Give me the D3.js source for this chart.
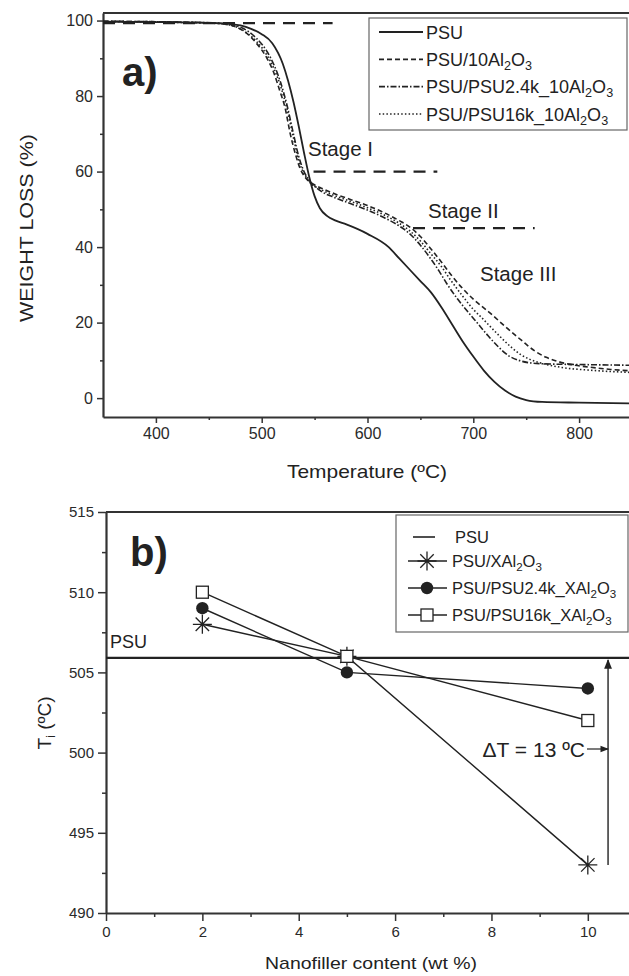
<!DOCTYPE html>
<html>
<head>
<meta charset="utf-8">
<script src="https://cdn.jsdelivr.net/npm/d3@7"></script>
<style>
  body { margin: 0; background: #fff; }
  svg { display: block; font-family: "Liberation Sans", Arial, sans-serif; }
  .tick text { fill: #2a2a2a; }
</style>
</head>
<body>
<svg id="fig" width="629" height="976"></svg>
<script>
// panel a: TGA curves, [temperature, weight %]
const psuTga = [[350,99.7],[400,99.6],[450,99.4],[470,99.1],[480,98.7],[490,97.8],[500,96.4],[510,94],[520,88.5],[525,84],[530,78.5],[535,72],[540,65],[545,58.5],[550,53.5],[555,50.3],[562,48.2],[570,47],[580,46],[600,43.5],[620,40],[630,37],[640,34],[650,31],[660,28],[670,24],[680,19.5],[690,15],[700,11],[710,7.3],[720,4.3],[730,2],[740,0.4],[750,-0.5],[765,-1],[800,-1.2],[850,-1.4]];
const al2o3Tga = [[350,99.8],[420,99.6],[460,99.2],[470,98.8],[478,98],[486,96.6],[495,94],[505,90],[511,86.5],[517,81.5],[522,77],[527,70],[532,64.5],[536,61],[541,58.5],[548,56.8],[555,55.8],[570,54],[585,52.5],[600,51],[615,49.2],[630,47],[640,45.3],[650,42.8],[660,39.5],[670,36],[680,32.3],[690,29],[700,26.2],[716,22.5],[730,19],[746,15.2],[758,12.5],[769,10.8],[780,9.7],[790,9],[810,8.2],[830,7.6],[850,7.2]];
const psu24kTga = [[350,99.8],[420,99.6],[460,99.3],[470,99],[480,98.2],[488,97],[495,95.3],[505,91.8],[512,88],[518,83.5],[524,77.5],[530,70],[535,64],[540,60],[546,57.3],[555,55],[570,53],[585,51.4],[600,49.8],[615,47.9],[630,45.6],[640,43.5],[650,40.5],[660,36.8],[668,33.5],[675,30.3],[685,26.3],[695,22.8],[705,19.5],[714,16.5],[724,13.5],[733,11.3],[743,10],[752,9.4],[765,9.1],[800,8.9],[850,8.7]];
const psu16kTga = [[350,99.7],[420,99.5],[460,99.2],[470,98.8],[480,97.8],[488,96.3],[495,94.5],[505,90.8],[512,87],[518,82.5],[524,76.5],[530,69],[535,63],[540,59.5],[546,57],[555,55.4],[570,53.5],[585,52],[600,50.4],[615,48.6],[630,46.3],[640,44.3],[650,41.6],[660,38.2],[670,34.8],[678,31.5],[690,27],[700,23.5],[708,21.3],[720,17.8],[735,13.7],[745,11.5],[754,10.2],[765,9.2],[784,8.1],[810,7.4],[850,6.8]];
// stage marker lines: [T start, T end, weight]
const stageLines = [[350, 567, 99.3], [549, 666, 60], [643, 758, 45]];
const tempTicks = [400, 500, 600, 700, 800];
const tempMinor = [450, 550, 650, 750];
const weightTicks = [0, 20, 40, 60, 80, 100];
const weightMinor = [10, 30, 50, 70, 90];

// panel b: onset temperature vs filler content
const fillerContent = [2, 5, 10];
const tiPsu = 505.9;
const tiAl2o3 = [508, 506, 493];
const tiPsu24k = [509, 505, 504];
const tiPsu16k = [510, 506, 502];
const fillerTicks = [0, 2, 4, 6, 8, 10];
const fillerMinor = [1, 3, 5, 7, 9];
const tiTicks = [490, 495, 500, 505, 510, 515];
const tiMinor = [492.5, 497.5, 502.5, 507.5, 512.5];

const INK = '#222';
const svg = d3.select('#fig');

const defs = svg.append('defs');
defs.append('marker').attr('id', 'arrow')
  .attr('viewBox', '0 0 10 10').attr('refX', 9).attr('refY', 5)
  .attr('markerWidth', 7).attr('markerHeight', 7).attr('orient', 'auto')
  .append('path').attr('d', 'M0,1 L10,5 L0,9 Z').attr('fill', INK);
defs.append('clipPath').attr('id', 'clipA')
  .append('rect').attr('x', 103).attr('y', 13).attr('width', 530).attr('height', 404);

function richText(sel, parts) {
  // parts: [text, isSubscript]
  parts.forEach(([t, sub]) => {
    sel.append('tspan')
      .attr('font-size', sub ? '70%' : null)
      .attr('baseline-shift', sub ? '-30%' : null)
      .text(t);
  });
  return sel;
}

function drawAxes(g, x, y, opt) {
  const bottom = g.append('g').attr('transform', `translate(0,${y.range()[0]})`)
    .call(d3.axisBottom(x).tickValues(opt.xTicks).tickSize(opt.tick).tickSizeOuter(0).tickPadding(5));
  g.append('g').attr('transform', `translate(0,${y.range()[0]})`)
    .call(d3.axisBottom(x).tickValues(opt.xMinor).tickSize(opt.tick * 0.5).tickFormat(''))
    .select('.domain').remove();
  const left = g.append('g').attr('transform', `translate(${x.range()[0]},0)`)
    .call(d3.axisLeft(y).tickValues(opt.yTicks).tickSize(opt.tick).tickSizeOuter(0).tickPadding(4));
  g.append('g').attr('transform', `translate(${x.range()[0]},0)`)
    .call(d3.axisLeft(y).tickValues(opt.yMinor).tickSize(opt.tick * 0.5).tickFormat(''))
    .select('.domain').remove();
  [bottom, left].forEach(a => {
    a.select('.domain').attr('stroke', '#333').attr('stroke-width', 2.2);
    a.selectAll('.tick text').attr('font-size', opt.font);
  });
  g.selectAll('.tick line').attr('stroke', '#333').attr('stroke-width', 1.5);
  g.append('line')
    .attr('x1', x.range()[0]).attr('x2', 640)
    .attr('y1', y.range()[1]).attr('y2', y.range()[1])
    .attr('stroke', '#333').attr('stroke-width', 2.2);
}

// ---------- panel a ----------
const xa = d3.scaleLinear([350, 850], [103, 632]);
const ya = d3.scaleLinear([-5, 102], [417, 13]);
const gA = svg.append('g');
drawAxes(gA, xa, ya, { xTicks: tempTicks, xMinor: tempMinor, yTicks: weightTicks, yMinor: weightMinor, tick: 6, font: '16px' });

const tgaSeries = [
  { name: [['PSU', false]], data: psuTga, dash: null, width: 1.8 },
  { name: [['PSU/10Al', false], ['2', true], ['O', false], ['3', true]], data: al2o3Tga, dash: '5,3', width: 1.6 },
  { name: [['PSU/PSU2.4k_10Al', false], ['2', true], ['O', false], ['3', true]], data: psu24kTga, dash: '6,2,1.5,2', width: 1.6 },
  { name: [['PSU/PSU16k_10Al', false], ['2', true], ['O', false], ['3', true]], data: psu16kTga, dash: '1.5,2.2', width: 1.6 }
];

const lineA = d3.line().x(d => xa(d[0])).y(d => ya(d[1])).curve(d3.curveMonotoneX);
const plotA = gA.append('g').attr('clip-path', 'url(#clipA)');

plotA.selectAll('line.stage').data(stageLines).join('line').attr('class', 'stage')
  .attr('x1', d => xa(d[0])).attr('x2', d => xa(d[1]))
  .attr('y1', d => ya(d[2])).attr('y2', d => ya(d[2]))
  .attr('stroke', INK).attr('stroke-width', 2.2).attr('stroke-dasharray', '12,8');

plotA.selectAll('path.tga').data(tgaSeries).join('path').attr('class', 'tga')
  .attr('d', d => lineA(d.data))
  .attr('fill', 'none').attr('stroke', INK)
  .attr('stroke-width', d => d.width)
  .attr('stroke-dasharray', d => d.dash);

gA.append('text').attr('x', 122).attr('y', 86).attr('font-size', 40).attr('font-weight', 'bold').attr('fill', INK).text('a)');
const stageLabels = [['Stage I', 308, 156], ['Stage II', 428, 218], ['Stage III', 480, 281]];
gA.selectAll('text.stage').data(stageLabels).join('text').attr('class', 'stage')
  .attr('x', d => d[1]).attr('y', d => d[2]).attr('font-size', 20.5).attr('fill', INK)
  .text(d => d[0]);

const legA = gA.append('g');
legA.append('rect').attr('x', 369).attr('y', 18).attr('width', 258).attr('height', 112)
  .attr('fill', '#fff').attr('stroke', '#666').attr('stroke-width', 1.2);
const legAy = d3.scalePoint().domain(d3.range(tgaSeries.length)).range([32, 114]);
tgaSeries.forEach((s, i) => {
  const yy = legAy(i);
  legA.append('line').attr('x1', 379).attr('x2', 423).attr('y1', yy).attr('y2', yy)
    .attr('stroke', INK).attr('stroke-width', s.width).attr('stroke-dasharray', s.dash);
  richText(legA.append('text').attr('x', 426).attr('y', yy + 6.5).attr('font-size', 18).attr('fill', INK), s.name);
});

richText(gA.append('text')
  .attr('transform', 'translate(33,228) rotate(-90)')
  .attr('text-anchor', 'middle').attr('font-size', 19).attr('fill', INK)
  .attr('textLength', 188).attr('lengthAdjust', 'spacingAndGlyphs'), [['WEIGHT LOSS (%)', false]]);
gA.append('text').attr('x', 367).attr('y', 478).attr('text-anchor', 'middle')
  .attr('font-size', 18.5).attr('fill', INK)
  .attr('textLength', 160).attr('lengthAdjust', 'spacingAndGlyphs')
  .text('Temperature (ºC)');

// ---------- panel b ----------
const xb = d3.scaleLinear([0, 11], [106, 636]);
const yb = d3.scaleLinear([490, 515], [913, 512]);
const gB = svg.append('g');
drawAxes(gB, xb, yb, { xTicks: fillerTicks, xMinor: fillerMinor, yTicks: tiTicks, yMinor: tiMinor, tick: 8, font: '15px' });

gB.append('line').attr('x1', xb(0)).attr('x2', 640).attr('y1', yb(tiPsu)).attr('y2', yb(tiPsu))
  .attr('stroke', INK).attr('stroke-width', 2.2);
gB.append('text').attr('x', 110).attr('y', 648).attr('font-size', 18).attr('fill', INK).text('PSU');

function asterisk(r) {
  const k = r * Math.SQRT1_2;
  return `M${-r},0L${r},0M0,${-r}L0,${r}M${-k},${-k}L${k},${k}M${-k},${k}L${k},${-k}`;
}

const tiSeries = [
  { name: [['PSU/XAl', false], ['2', true], ['O', false], ['3', true]], values: tiAl2o3, marker: 'star' },
  { name: [['PSU/PSU2.4k_XAl', false], ['2', true], ['O', false], ['3', true]], values: tiPsu24k, marker: 'dot' },
  { name: [['PSU/PSU16k_XAl', false], ['2', true], ['O', false], ['3', true]], values: tiPsu16k, marker: 'square' }
];

function drawMarker(sel, type) {
  if (type === 'star') {
    sel.append('path').attr('d', asterisk(9.5)).attr('stroke', INK).attr('stroke-width', 1.3).attr('fill', 'none');
  } else if (type === 'dot') {
    sel.append('circle').attr('r', 6.2).attr('fill', INK);
  } else {
    sel.append('rect').attr('x', -6).attr('y', -6).attr('width', 12).attr('height', 12)
      .attr('fill', '#fff').attr('stroke', INK).attr('stroke-width', 1.3);
  }
}

const lineB = d3.line().x((d, i) => xb(fillerContent[i])).y(d => yb(d));
gB.selectAll('path.ti').data(tiSeries).join('path').attr('class', 'ti')
  .attr('d', d => lineB(d.values))
  .attr('fill', 'none').attr('stroke', INK).attr('stroke-width', 1.4);
tiSeries.forEach(s => {
  s.values.forEach((v, i) => {
    const m = gB.append('g').attr('transform', `translate(${xb(fillerContent[i])},${yb(v)})`);
    drawMarker(m, s.marker);
  });
});

// delta T annotation
const dtX = xb(10.42);
gB.append('line').attr('x1', dtX).attr('x2', dtX)
  .attr('y1', yb(d3.min(tiAl2o3))).attr('y2', yb(tiPsu) + 2)
  .attr('stroke', INK).attr('stroke-width', 1.4).attr('marker-end', 'url(#arrow)');
gB.append('text').attr('x', 585).attr('y', 757).attr('text-anchor', 'end')
  .attr('font-size', 21).attr('fill', INK).text('ΔT = 13 ºC');
gB.append('line').attr('x1', 587).attr('x2', dtX).attr('y1', 749).attr('y2', 749)
  .attr('stroke', INK).attr('stroke-width', 1.2).attr('marker-end', 'url(#arrow)');

gB.append('text').attr('x', 130).attr('y', 566).attr('font-size', 40).attr('font-weight', 'bold').attr('fill', INK).text('b)');

const legB = gB.append('g');
legB.append('rect').attr('x', 396).attr('y', 515).attr('width', 232).attr('height', 117)
  .attr('fill', '#fff').attr('stroke', '#666').attr('stroke-width', 1.2);
legB.append('line').attr('x1', 413).attr('x2', 435).attr('y1', 537).attr('y2', 537)
  .attr('stroke', INK).attr('stroke-width', 1.6);
legB.append('text').attr('x', 455).attr('y', 543).attr('font-size', 16.5).attr('fill', INK).text('PSU');
const legBy = [561, 588, 615];
tiSeries.forEach((s, i) => {
  const yy = legBy[i];
  legB.append('line').attr('x1', 408).attr('x2', 447).attr('y1', yy).attr('y2', yy)
    .attr('stroke', INK).attr('stroke-width', 1.4);
  drawMarker(legB.append('g').attr('transform', `translate(427,${yy})`), s.marker);
  richText(legB.append('text').attr('x', 452).attr('y', yy + 6).attr('font-size', 16.5).attr('fill', INK), s.name);
});

richText(gB.append('text')
  .attr('transform', 'translate(51,723) rotate(-90)')
  .attr('text-anchor', 'middle').attr('font-size', 19).attr('fill', INK),
  [['T', false], ['i', true], [' (ºC)', false]]);
gB.append('text').attr('x', 371).attr('y', 969).attr('text-anchor', 'middle')
  .attr('font-size', 17).attr('fill', INK)
  .attr('textLength', 212).attr('lengthAdjust', 'spacingAndGlyphs')
  .text('Nanofiller content (wt %)');
</script>
</body>
</html>
